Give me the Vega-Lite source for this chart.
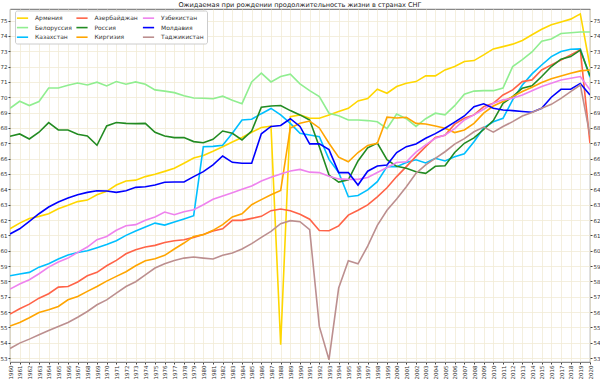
{
  "$schema": "https://vega.github.io/schema/vega-lite/v6.json",
  "width": 580,
  "height": 353,
  "autosize": {"type": "none"},
  "padding": {"left": 10, "top": 9, "right": 10, "bottom": 19},
  "background": "white",
  "config": {
    "font": "DejaVu Sans",
    "view": {"stroke": "#444444", "strokeWidth": 0.8},
    "axis": {"labelFont": "DejaVu Sans", "labelColor": "#333333", "tickColor": "#444444", "tickSize": 2, "labelPadding": 1, "domain": false, "title": null}
  },
  "title": {"text": "Ожидаемая при рождении продолжительность жизни в странах СНГ", "orient": "top", "anchor": "middle", "baseline": "bottom", "fontSize": 6.6, "fontWeight": "normal", "color": "#222222", "offset": -1.5, "dy": 4, "font": "DejaVu Sans", "frame": "group"},
  "data": {"values": [
    {"year":1960,"Армения":61.43,"Белоруссия":69.28,"Казахстан":58.37,"Азербайджан":55.87,"Россия":67.46,"Киргизия":55.09,"Узбекистан":57.5,"Молдавия":61.09,"Таджикистан":53.63},
    {"year":1961,"Армения":61.8,"Белоруссия":69.74,"Казахстан":58.48,"Азербайджан":56.22,"Россия":67.61,"Киргизия":55.33,"Узбекистан":57.83,"Молдавия":61.43,"Таджикистан":53.98},
    {"year":1962,"Армения":62.1,"Белоруссия":69.46,"Казахстан":58.59,"Азербайджан":56.52,"Россия":67.28,"Киргизия":55.63,"Узбекистан":58.11,"Молдавия":61.91,"Таджикистан":54.24},
    {"year":1963,"Армения":62.24,"Белоруссия":69.72,"Казахстан":58.93,"Азербайджан":56.91,"Россия":67.72,"Киргизия":55.98,"Узбекистан":58.5,"Молдавия":62.41,"Таджикистан":54.52},
    {"year":1964,"Армения":62.41,"Белоруссия":70.6,"Казахстан":59.15,"Азербайджан":57.2,"Россия":68.35,"Киргизия":56.15,"Узбекистан":58.93,"Молдавия":62.85,"Таджикистан":54.8},
    {"year":1965,"Армения":62.74,"Белоруссия":70.6,"Казахстан":59.46,"Азербайджан":57.63,"Россия":67.87,"Киргизия":56.37,"Узбекистан":59.26,"Молдавия":63.17,"Таджикистан":55.07},
    {"year":1966,"Армения":62.96,"Белоруссия":70.78,"Казахстан":59.72,"Азербайджан":57.67,"Россия":67.87,"Киргизия":56.8,"Узбекистан":59.52,"Молдавия":63.43,"Таджикистан":55.33},
    {"year":1967,"Армения":63.2,"Белоруссия":70.93,"Казахстан":59.89,"Азербайджан":57.96,"Россия":67.59,"Киргизия":57.02,"Узбекистан":59.89,"Молдавия":63.65,"Таджикистан":55.67},
    {"year":1968,"Армения":63.3,"Белоруссия":70.8,"Казахстан":60.0,"Азербайджан":58.37,"Россия":67.48,"Киргизия":57.35,"Узбекистан":60.24,"Молдавия":63.8,"Таджикистан":56.04},
    {"year":1969,"Армения":63.65,"Белоруссия":70.98,"Казахстан":60.2,"Азербайджан":58.59,"Россия":66.87,"Киргизия":57.67,"Узбекистан":60.72,"Молдавия":63.91,"Таджикистан":56.48},
    {"year":1970,"Армения":63.87,"Белоруссия":70.74,"Казахстан":60.41,"Азербайджан":59.02,"Россия":68.13,"Киргизия":58.02,"Узбекистан":60.93,"Молдавия":63.89,"Таджикистан":56.8},
    {"year":1971,"Армения":64.28,"Белоруссия":71.02,"Казахстан":60.65,"Азербайджан":59.37,"Россия":68.35,"Киргизия":58.33,"Узбекистан":61.33,"Молдавия":63.8,"Таджикистан":57.24},
    {"year":1972,"Армения":64.54,"Белоруссия":70.85,"Казахстан":61.0,"Азербайджан":59.8,"Россия":68.3,"Киргизия":58.63,"Узбекистан":61.63,"Молдавия":63.91,"Таджикистан":57.67},
    {"year":1973,"Армения":64.6,"Белоруссия":71.0,"Казахстан":61.28,"Азербайджан":60.07,"Россия":68.28,"Киргизия":59.02,"Узбекистан":61.7,"Молдавия":64.13,"Таджикистан":57.98},
    {"year":1974,"Армения":64.83,"Белоруссия":70.85,"Казахстан":61.54,"Азербайджан":60.24,"Россия":68.3,"Киргизия":59.35,"Узбекистан":61.98,"Молдавия":64.17,"Таджикистан":58.43},
    {"year":1975,"Армения":64.98,"Белоруссия":70.48,"Казахстан":61.8,"Азербайджан":60.35,"Россия":67.72,"Киргизия":59.48,"Узбекистан":62.2,"Молдавия":64.28,"Таджикистан":58.87},
    {"year":1976,"Армения":65.17,"Белоруссия":70.4,"Казахстан":61.67,"Азербайджан":60.54,"Россия":67.48,"Киргизия":59.7,"Узбекистан":62.52,"Молдавия":64.46,"Таджикистан":59.15},
    {"year":1977,"Армения":65.37,"Белоруссия":70.3,"Казахстан":61.87,"Азербайджан":60.65,"Россия":67.37,"Киргизия":60.11,"Узбекистан":62.35,"Молдавия":64.48,"Таджикистан":59.37},
    {"year":1978,"Армения":65.7,"Белоруссия":70.1,"Казахстан":62.07,"Азербайджан":60.72,"Россия":67.37,"Киргизия":60.5,"Узбекистан":62.54,"Молдавия":64.48,"Таджикистан":59.52},
    {"year":1979,"Армения":66.04,"Белоруссия":69.95,"Казахстан":62.28,"Азербайджан":60.87,"Россия":67.11,"Киргизия":60.93,"Узбекистан":62.67,"Молдавия":64.83,"Таджикистан":59.59},
    {"year":1980,"Армения":66.2,"Белоруссия":69.93,"Казахстан":66.78,"Азербайджан":61.05,"Россия":67.04,"Киргизия":61.05,"Узбекистан":63.0,"Молдавия":65.15,"Таджикистан":59.52},
    {"year":1981,"Армения":66.48,"Белоруссия":69.9,"Казахстан":66.8,"Азербайджан":61.28,"Россия":67.26,"Киргизия":61.33,"Узбекистан":63.35,"Молдавия":65.59,"Таджикистан":59.46},
    {"year":1982,"Армения":66.78,"Белоруссия":70.07,"Казахстан":66.87,"Азербайджан":61.43,"Россия":67.8,"Киргизия":61.7,"Узбекистан":63.57,"Молдавия":66.17,"Таджикистан":59.7},
    {"year":1983,"Армения":67.08,"Белоруссия":69.8,"Казахстан":67.65,"Азербайджан":61.98,"Россия":67.65,"Киргизия":62.2,"Узбекистан":63.78,"Молдавия":65.76,"Таджикистан":59.85},
    {"year":1984,"Армения":67.38,"Белоруссия":69.58,"Казахстан":68.52,"Азербайджан":61.98,"Россия":67.22,"Киргизия":62.41,"Узбекистан":64.0,"Молдавия":65.7,"Таджикистан":60.11},
    {"year":1985,"Армения":67.72,"Белоруссия":71.0,"Казахстан":68.57,"Азербайджан":62.11,"Россия":67.8,"Киргизия":63.0,"Узбекистан":64.22,"Молдавия":65.7,"Таджикистан":60.46},
    {"year":1986,"Армения":68.03,"Белоруссия":71.57,"Казахстан":68.93,"Азербайджан":62.24,"Россия":69.35,"Киргизия":63.33,"Узбекистан":64.54,"Молдавия":67.62,"Таджикистан":60.87},
    {"year":1987,"Армения":68.12,"Белоруссия":71.0,"Казахстан":69.27,"Азербайджан":62.61,"Россия":69.43,"Киргизия":63.65,"Узбекистан":64.78,"Молдавия":68.1,"Таджикистан":61.26},
    {"year":1988,"Армения":53.87,"Белоруссия":71.35,"Казахстан":68.85,"Азербайджан":62.72,"Россия":69.46,"Киргизия":63.93,"Узбекистан":65.0,"Молдавия":68.16,"Таджикистан":61.76},
    {"year":1989,"Армения":68.74,"Белоруссия":71.5,"Казахстан":68.3,"Азербайджан":62.61,"Россия":69.13,"Киргизия":68.0,"Узбекистан":65.2,"Молдавия":68.6,"Таджикистан":61.96},
    {"year":1990,"Армения":68.85,"Белоруссия":70.87,"Казахстан":67.65,"Азербайджан":62.37,"Россия":68.85,"Киргизия":68.3,"Узбекистан":65.3,"Молдавия":68.1,"Таджикистан":61.89},
    {"year":1991,"Армения":68.63,"Белоруссия":70.43,"Казахстан":67.54,"Азербайджан":62.05,"Россия":68.52,"Киргизия":68.45,"Узбекистан":65.12,"Молдавия":66.96,"Таджикистан":61.37},
    {"year":1992,"Армения":68.63,"Белоруссия":70.04,"Казахстан":67.43,"Азербайджан":61.32,"Россия":66.78,"Киргизия":68.0,"Узбекистан":65.09,"Молдавия":66.96,"Таджикистан":55.07},
    {"year":1993,"Армения":68.85,"Белоруссия":68.96,"Казахстан":65.95,"Азербайджан":61.3,"Россия":64.93,"Киргизия":67.0,"Узбекистан":64.85,"Молдавия":66.59,"Таджикистан":52.9},
    {"year":1994,"Армения":69.07,"Белоруссия":68.8,"Казахстан":65.1,"Азербайджан":61.62,"Россия":64.47,"Киргизия":66.1,"Узбекистан":64.68,"Молдавия":65.09,"Таджикистан":57.57},
    {"year":1995,"Армения":69.28,"Белоруссия":68.52,"Казахстан":63.52,"Азербайджан":62.32,"Россия":64.62,"Киргизия":65.8,"Узбекистан":64.65,"Молдавия":65.09,"Таджикистан":59.35},
    {"year":1996,"Армения":69.76,"Белоруссия":68.52,"Казахстан":63.6,"Азербайджан":62.64,"Россия":65.85,"Киргизия":66.4,"Узбекистан":64.65,"Молдавия":64.28,"Таджикистан":59.15},
    {"year":1997,"Армения":69.91,"Белоруссия":68.48,"Казахстан":63.96,"Азербайджан":62.99,"Россия":66.7,"Киргизия":66.85,"Узбекистан":64.77,"Молдавия":65.18,"Таджикистан":60.3},
    {"year":1998,"Армения":70.52,"Белоруссия":68.4,"Казахстан":64.5,"Азербайджан":63.51,"Россия":67.02,"Киргизия":67.0,"Узбекистан":65.1,"Молдавия":65.52,"Таджикистан":61.65},
    {"year":1999,"Армения":70.26,"Белоруссия":67.96,"Казахстан":65.48,"Азербайджан":64.1,"Россия":65.93,"Киргизия":68.7,"Узбекистан":65.42,"Молдавия":65.58,"Таджикистан":62.64},
    {"year":2000,"Армения":70.7,"Белоруссия":68.9,"Казахстан":65.48,"Азербайджан":64.83,"Россия":65.5,"Киргизия":68.65,"Узбекистан":65.75,"Молдавия":66.4,"Таджикистан":63.37},
    {"year":2001,"Армения":70.91,"Белоруссия":68.6,"Казахстан":65.75,"Азербайджан":65.48,"Россия":65.37,"Киргизия":68.7,"Узбекистан":65.8,"Молдавия":66.78,"Таджикистан":64.17},
    {"year":2002,"Армения":71.02,"Белоруссия":68.1,"Казахстан":65.93,"Азербайджан":66.15,"Россия":65.15,"Киргизия":68.3,"Узбекистан":66.42,"Молдавия":66.96,"Таджикистан":65.04},
    {"year":2003,"Армения":71.39,"Белоруссия":68.6,"Казахстан":65.72,"Азербайджан":66.78,"Россия":65.04,"Киргизия":68.26,"Узбекистан":66.9,"Молдавия":67.33,"Таджикистан":65.59},
    {"year":2004,"Армения":71.39,"Белоруссия":68.96,"Казахстан":66.02,"Азербайджан":67.38,"Россия":65.5,"Киргизия":68.13,"Узбекистан":67.33,"Молдавия":67.63,"Таджикистан":66.02},
    {"year":2005,"Армения":71.78,"Белоруссия":68.85,"Казахстан":65.85,"Азербайджан":67.52,"Россия":65.54,"Киргизия":67.98,"Узбекистан":67.54,"Молдавия":67.98,"Таджикистан":66.45},
    {"year":2006,"Армения":72.0,"Белоруссия":69.45,"Казахстан":66.13,"Азербайджан":68.25,"Россия":66.4,"Киргизия":67.7,"Узбекистан":67.95,"Молдавия":68.38,"Таджикистан":66.95},
    {"year":2007,"Армения":72.33,"Белоруссия":70.2,"Казахстан":66.32,"Азербайджан":68.63,"Россия":67.0,"Киргизия":67.87,"Узбекистан":68.52,"Молдавия":68.78,"Таджикистан":67.3},
    {"year":2008,"Армения":72.39,"Белоруссия":70.4,"Казахстан":67.1,"Азербайджан":68.85,"Россия":67.35,"Киргизия":68.3,"Узбекистан":68.85,"Молдавия":69.39,"Таджикистан":67.75},
    {"year":2009,"Армения":72.76,"Белоруссия":70.43,"Казахстан":68.0,"Азербайджан":69.39,"Россия":67.9,"Киргизия":68.96,"Узбекистан":69.22,"Молдавия":69.57,"Таджикистан":68.06},
    {"year":2010,"Армения":73.15,"Белоруссия":70.43,"Казахстан":68.4,"Азербайджан":69.61,"Россия":68.48,"Киргизия":69.43,"Узбекистан":69.61,"Молдавия":69.28,"Таджикистан":67.73},
    {"year":2011,"Армения":73.3,"Белоруссия":70.6,"Казахстан":68.63,"Азербайджан":70.15,"Россия":69.61,"Киргизия":69.72,"Узбекистан":69.83,"Молдавия":69.17,"Таджикистан":68.09},
    {"year":2012,"Армения":73.46,"Белоруссия":72.0,"Казахстан":69.83,"Азербайджан":70.48,"Россия":70.04,"Киргизия":70.04,"Узбекистан":69.93,"Молдавия":69.13,"Таджикистан":68.41},
    {"year":2013,"Армения":73.7,"Белоруссия":72.45,"Казахстан":70.8,"Азербайджан":71.02,"Россия":70.59,"Киргизия":70.37,"Узбекистан":70.15,"Молдавия":69.07,"Таджикистан":68.78},
    {"year":2014,"Армения":74.07,"Белоруссия":72.95,"Казахстан":71.52,"Азербайджан":71.13,"Россия":70.74,"Киргизия":70.65,"Узбекистан":70.43,"Молдавия":69.02,"Таджикистан":69.0},
    {"year":2015,"Армения":74.43,"Белоруссия":73.65,"Казахстан":72.1,"Азербайджан":71.78,"Россия":71.35,"Киргизия":70.96,"Узбекистан":70.7,"Молдавия":69.28,"Таджикистан":69.28},
    {"year":2016,"Армения":74.72,"Белоруссия":73.8,"Казахстан":72.65,"Азербайджан":72.11,"Россия":72.0,"Киргизия":71.2,"Узбекистан":70.91,"Молдавия":70.0,"Таджикистан":69.54},
    {"year":2017,"Армения":74.91,"Белоруссия":74.15,"Казахстан":72.98,"Азербайджан":72.43,"Россия":72.48,"Киргизия":71.39,"Узбекистан":71.13,"Молдавия":70.52,"Таджикистан":69.93},
    {"year":2018,"Армения":75.09,"Белоруссия":74.2,"Казахстан":73.13,"Азербайджан":72.76,"Россия":72.65,"Киргизия":71.57,"Узбекистан":71.24,"Молдавия":70.52,"Таджикистан":70.37},
    {"year":2019,"Армения":75.43,"Белоруссия":74.25,"Казахстан":73.15,"Азербайджан":73.09,"Россия":73.07,"Киргизия":71.72,"Узбекистан":71.35,"Молдавия":70.9,"Таджикистан":70.8},
    {"year":2020,"Армения":72.0,"Белоруссия":74.25,"Казахстан":71.3,"Азербайджан":67.0,"Россия":71.4,"Киргизия":71.78,"Узбекистан":70.48,"Молдавия":70.15,"Таджикистан":67.5}
  ]},
  "transform": [
    {"fold": ["Армения","Белоруссия","Казахстан","Азербайджан","Россия","Киргизия","Узбекистан","Молдавия","Таджикистан"], "as": ["country","value"]}
  ],
  "layer": [
    {
      "mark": {"type": "line", "strokeWidth": 1.6, "clip": true},
      "encoding": {
        "x": {"field": "year", "type": "quantitative",
              "scale": {"domain": [1960, 2020], "nice": false, "zero": false},
              "axis": {"values": [1960,1961,1962,1963,1964,1965,1966,1967,1968,1969,1970,1971,1972,1973,1974,1975,1976,1977,1978,1979,1980,1981,1982,1983,1984,1985,1986,1987,1988,1989,1990,1991,1992,1993,1994,1995,1996,1997,1998,1999,2000,2001,2002,2003,2004,2005,2006,2007,2008,2009,2010,2011,2012,2013,2014,2015,2016,2017,2018,2019,2020],
                       "format": "d", "labelAngle": -90, "labelFontSize": 5.5, "grid": true, "gridColor": "#f1ebd6", "gridWidth": 0.8, "labelOverlap": false, "labelFlush": false}},
        "y": {"field": "value", "type": "quantitative",
              "scale": {"domain": [52.75, 75.75], "nice": false, "zero": false},
              "axis": {"orient": "left", "values": [53,54,55,56,57,58,59,60,61,62,63,64,65,66,67,68,69,70,71,72,73,74,75],
                       "labelFontSize": 5.5, "grid": true, "gridColor": "#f1ebd6", "gridWidth": 0.8, "labelOverlap": false, "labelFlush": false}},
        "color": {"field": "country", "type": "nominal",
                  "scale": {"domain": ["Армения","Белоруссия","Казахстан","Азербайджан","Россия","Киргизия","Узбекистан","Молдавия","Таджикистан"],
                            "range": ["#FFD700","#90EE90","#00BFFF","#FF6347","#228B22","#FFA500","#EE82EE","#0000FF","#BC8F8F"]},
                  "legend": {"title": null, "orient": "none", "legendX": 5, "legendY": 1.5, "columns": 3, "columnPadding": 0.5, "rowPadding": 1.6,
                             "symbolType": "M-1.6,0H1.6", "symbolSize": 49, "symbolStrokeWidth": 1.6, "labelFontSize": 6, "labelColor": "#333333", "labelOffset": 8,
                             "fillColor": "white", "strokeColor": "#cccccc", "padding": 3, "cornerRadius": 2}}
      }
    },
    {
      "mark": {"type": "line", "opacity": 0},
      "encoding": {
        "x": {"field": "year", "type": "quantitative",
              "axis": {"values": [1960,1961,1962,1963,1964,1965,1966,1967,1968,1969,1970,1971,1972,1973,1974,1975,1976,1977,1978,1979,1980,1981,1982,1983,1984,1985,1986,1987,1988,1989,1990,1991,1992,1993,1994,1995,1996,1997,1998,1999,2000,2001,2002,2003,2004,2005,2006,2007,2008,2009,2010,2011,2012,2013,2014,2015,2016,2017,2018,2019,2020],
                       "format": "d", "labelAngle": -90, "labelFontSize": 5.5, "grid": true, "gridColor": "#f1ebd6", "gridWidth": 0.8, "labelOverlap": false, "labelFlush": false}},
        "y": {"field": "value", "type": "quantitative",
              "axis": {"orient": "right", "values": [53,54,55,56,57,58,59,60,61,62,63,64,65,66,67,68,69,70,71,72,73,74,75],
                       "labelFontSize": 5.5, "grid": false, "labelOverlap": false, "labelFlush": false}},
        "detail": {"field": "country"}
      }
    }
  ],
  "resolve": {"axis": {"y": "independent"}}
}
